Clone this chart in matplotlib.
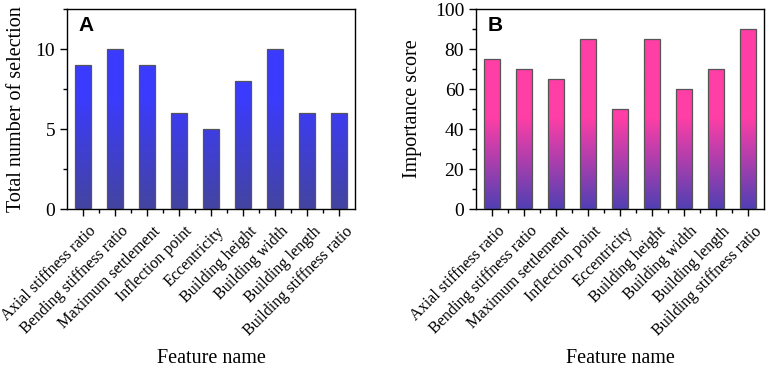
import matplotlib
matplotlib.use("Agg")
import matplotlib.pyplot as plt
import matplotlib.transforms as mtrans
import numpy as np
from matplotlib.ticker import MultipleLocator

features = ["Axial stiffness ratio", "Bending stiffness ratio", "Maximum settlement",
            "Inflection point", "Eccentricity", "Building height", "Building width",
            "Building length", "Building stiffness ratio"]
selection_count = [9, 10, 9, 6, 5, 8, 10, 6, 6]
importance_score = [75, 70, 65, 85, 50, 85, 60, 70, 90]

plt.rcParams['font.family'] = ['Liberation Serif', 'DejaVu Serif']


def gradient_bars(ax, values, top_color, bottom_color, y_full):
    bars = ax.bar(range(len(values)), values, width=0.5, facecolor='none',
                  edgecolor='#555555', linewidth=0.9, zorder=3)
    top = np.array(matplotlib.colors.to_rgb(top_color))
    bot = np.array(matplotlib.colors.to_rgb(bottom_color))
    for b in bars:
        h = b.get_height()
        ys = np.linspace(0, h, 200)
        t = np.clip(ys / y_full, 0, 1)[:, None]
        col = bot + (top - bot) * t
        img = col[:, None, :]
        ax.imshow(img, extent=[b.get_x(), b.get_x() + b.get_width(), 0, h],
                  origin='lower', aspect='auto', zorder=2, interpolation='bilinear')
    return bars


fig = plt.figure(figsize=(7.68, 3.76), dpi=100)
ax1 = fig.add_axes([67/768, 1 - 209/376, 288/768, 200/376])
ax2 = fig.add_axes([476/768, 1 - 209/376, 288/768, 200/376])

gradient_bars(ax1, selection_count, '#3b3bff', '#4444a0', 7.0)
gradient_bars(ax2, importance_score, '#ff3ea6', '#5040b4', 46.0)

ax1.set_ylim(0, 12.5)
ax1.yaxis.set_major_locator(MultipleLocator(5))
ax1.yaxis.set_minor_locator(MultipleLocator(2.5))
ax2.set_ylim(0, 100)
ax2.yaxis.set_major_locator(MultipleLocator(20))
ax2.yaxis.set_minor_locator(MultipleLocator(10))

# tick labels sit a bit lower/right of the ticks, as in the original
shift = mtrans.ScaledTranslation(0.11, -0.20, fig.dpi_scale_trans)
for ax, lab, yl, ypad in [(ax1, 'A', 'Total number of selection', 7),
                          (ax2, 'B', 'Importance score', 9)]:
    ax.set_xlim(-0.5, len(features) - 0.5)
    ax.set_xticks(range(len(features)))
    ax.set_xticks(np.arange(0.5, len(features) - 1, 1), minor=True)
    ax.set_xticklabels([])
    for i, name in enumerate(features):
        ax.text(i, 0, name, transform=ax.get_xaxis_transform() + shift,
                rotation=45, ha='right', va='center', rotation_mode='anchor', fontsize=11.6)
    ax.tick_params(axis='both', which='major', direction='out', length=5, width=1, labelsize=14)
    ax.tick_params(axis='both', which='minor', direction='out', length=3, width=1)
    for s in ax.spines.values():
        s.set_linewidth(1)
    ax.set_xlabel('Feature name', fontsize=14.5)
    ax.xaxis.set_label_coords(0.5, -0.70)
    ax.set_ylabel(yl, fontsize=14.5, labelpad=ypad)
    ax.text(0.04, 0.965, lab, transform=ax.transAxes, fontsize=15, fontweight='bold',
            family='Liberation Sans', va='top', ha='left')

fig.savefig('out.png', dpi=100)
